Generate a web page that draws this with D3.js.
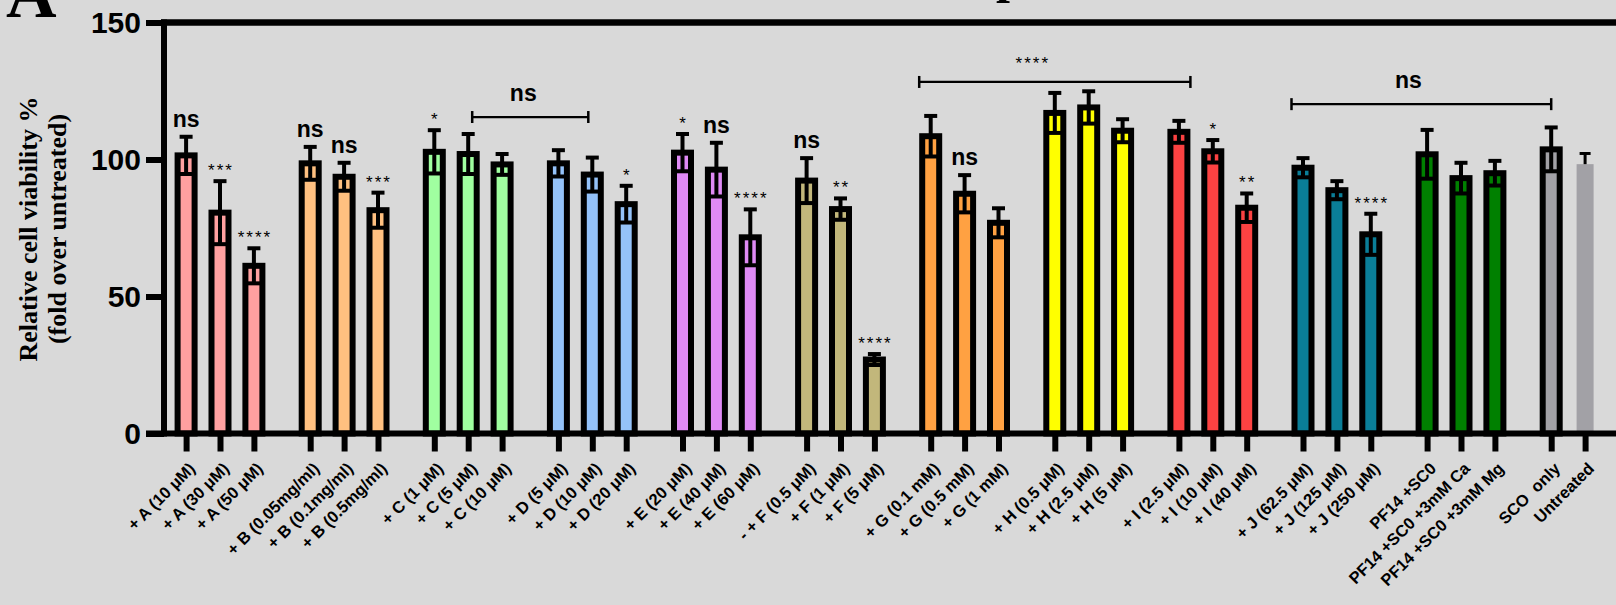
<!DOCTYPE html>
<html><head><meta charset="utf-8">
<script src="https://cdn.jsdelivr.net/npm/d3@7"></script>
<style>
html,body{margin:0;padding:0;background:#d9d9d9;}
svg{display:block;}
</style></head><body>
<svg id="chart" width="1616" height="605"></svg>
<script>
// ---------------- data ----------------
const categories = [
  "+ A (10 μM)", "+ A (30 μM)", "+ A (50 μM)",
  "+ B (0.05mg/ml)", "+ B (0.1mg/ml)", "+ B (0.5mg/ml)",
  "+ C (1 μM)", "+ C (5 μM)", "+ C (10 μM)",
  "+ D (5 μM)", "+ D (10 μM)", "+ D (20 μM)",
  "+ E (20 μM)", "+ E (40 μM)", "+ E (60 μM)",
  "- + F (0.5 μM)", "+ F (1 μM)", "+ F (5 μM)",
  "+ G (0.1 mM)", "+ G (0.5 mM)", "+ G (1 mM)",
  "+ H (0.5 μM)", "+ H (2.5 μM)", "+ H (5 μM)",
  "+ I (2.5 μM)", "+ I (10 μM)", "+ I (40 μM)",
  "+ J (62.5 μM)", "+ J (125 μM)", "+ J (250 μM)",
  "PF14 +SC0", "PF14 +SC0 +3mM Ca", "PF14 +SC0 +3mM Mg",
  "SCO  only", "Untreated"
];
const means = [
  101.5, 80.6, 61.2,
  98.6, 93.7, 81.5,
  102.8, 102.0, 98.2,
  98.6, 94.5, 83.7,
  102.5, 96.3, 71.6,
  92.3, 81.9, 27.0,
  108.5, 87.5, 76.9,
  117.0, 119.0, 110.5,
  110.1, 103.0, 82.4,
  97.0, 88.8, 72.7,
  101.9, 93.2, 95.0,
  103.7, 98.3
];
const sds = [
  6.8, 11.5, 6.4,
  6.0, 5.1, 6.4,
  7.9, 7.3, 3.8,
  4.8, 6.2, 6.7,
  6.8, 9.8, 10.2,
  8.2, 3.9, 2.0,
  7.4, 6.8, 5.3,
  7.3, 5.9, 4.2,
  4.0, 4.1, 5.2,
  3.5, 3.3, 7.5,
  8.9, 5.6, 4.5,
  8.0, 3.9
];
const groupIndex = [0,0,0, 1,1,1, 2,2,2, 3,3,3, 4,4,4, 5,5,5, 6,6,6, 7,7,7, 8,8,8, 9,9,9, 10,10,10, 11,11];
const groupColors = ["#FFA0A0","#FFC080","#A0FFA0","#94C2F9","#DF8AF5","#C2B77B",
                     "#FFA142","#FFFF00","#FC4242","#0A7E98","#008000","#A2A1A6"];
const sigLabels = [
  "ns","***","****",
  "ns","ns","***",
  "*","","",
  "","","*",
  "*","ns","****",
  "ns","**","****",
  "","ns","",
  "","","",
  "","*","**",
  "","","****",
  "","","",
  "",""
];
const yTicks = [0, 50, 100, 150];
const bracketFrom  = ["+ C (5 μM)", "+ G (0.1 mM)", "+ J (62.5 μM)"];
const bracketTo    = ["+ D (10 μM)", "+ I (2.5 μM)", "SCO  only"];
const bracketLevel = [115.5, 128.3, 120.2];
const bracketText  = ["ns", "****", "ns"];
const borderless   = ["Untreated"];

// ---------------- styles ----------------
const SANS = "'Liberation Sans', Arial, Helvetica, sans-serif";
const SERIF = "'Liberation Serif', 'Times New Roman', serif";
const bracketStyle = [{l: 4, r: -4, tx: -7}, {l: -11.5, r: 11.5, tx: -22}, {l: -11.5, r: 0, tx: -13}];

// ---------------- drawing ----------------
const W = 1616, H = 605;
const svg = d3.select("#chart");
svg.append("rect").attr("width", W).attr("height", H).attr("fill", "#d9d9d9");

const within = [];
const counts = {};
groupIndex.forEach(g => { counts[g] = counts[g] || 0; within.push(counts[g]); counts[g]++; });

const y = d3.scaleLinear().domain([0, 150]).range([433.5, 22.5]);
const gx = d3.scaleBand().domain(d3.range(12)).range([169.15, 1635.95]).paddingInner(0.1805).paddingOuter(0);
const ix = d3.scaleBand().domain([0, 1, 2]).range([0, gx.bandwidth()]);
const cxOf = i => gx(groupIndex[i]) + ix(within[i]) + ix.bandwidth() / 2;
const xPos = d3.scaleOrdinal().domain(categories).range(categories.map((c, i) => cxOf(i)));

const rows = categories.map((c, i) => ({
  name: c, mean: means[i], sd: sds[i], color: groupColors[groupIndex[i]],
  x: xPos(c), plain: borderless.includes(c), sig: sigLabels[i]
}));

const barW = 17;
// bars
svg.append("g").selectAll("rect").data(rows).join("rect")
  .attr("x", d => d.x - barW / 2)
  .attr("y", d => y(d.mean))
  .attr("width", barW)
  .attr("height", d => y(0) - y(d.mean))
  .attr("fill", d => d.color)
  .attr("stroke", d => d.plain ? "none" : "#000")
  .attr("stroke-width", 6);

// error bars
const eg = svg.append("g").attr("stroke", "#000");
rows.forEach(d => {
  const lw = d.plain ? 3 : 4;
  const cw = d.plain ? 5.5 : 6.5;
  eg.append("line").attr("x1", d.x).attr("x2", d.x).attr("y1", y(d.mean)).attr("y2", y(d.mean + d.sd)).attr("stroke-width", lw);
  eg.append("line").attr("x1", d.x - cw).attr("x2", d.x + cw).attr("y1", y(d.mean + d.sd)).attr("y2", y(d.mean + d.sd)).attr("stroke-width", lw);
  if (!d.plain) {
    eg.append("line").attr("x1", d.x).attr("x2", d.x).attr("y1", y(d.mean)).attr("y2", y(d.mean - d.sd)).attr("stroke-width", lw);
    eg.append("line").attr("x1", d.x - cw).attr("x2", d.x + cw).attr("y1", y(d.mean - d.sd)).attr("y2", y(d.mean - d.sd)).attr("stroke-width", lw);
  }
});

// significance labels
rows.filter(d => d.sig !== "").forEach(d => {
  const capY = y(d.mean + d.sd);
  const isNs = d.sig === "ns";
  svg.append("text")
    .attr("x", d.x + (isNs ? 0 : 1))
    .attr("y", isNs ? capY - 10 : capY - 5)
    .attr("text-anchor", "middle")
    .attr("font-family", SANS)
    .attr("font-weight", isNs ? "bold" : "normal")
    .attr("font-size", isNs ? 23 : 17)
    .attr("letter-spacing", isNs ? 0 : 2)
    .attr("fill", "#000")
    .text(d.sig);
});

// brackets
bracketFrom.forEach((f, k) => {
  const st = bracketStyle[k];
  const x1 = xPos(f) + st.l, x2 = xPos(bracketTo[k]) + st.r;
  const yy = y(bracketLevel[k]);
  const g = svg.append("g").attr("stroke", "#000");
  g.append("line").attr("x1", x1).attr("x2", x2).attr("y1", yy).attr("y2", yy).attr("stroke-width", 2.2);
  g.append("line").attr("x1", x1).attr("x2", x1).attr("y1", yy - 6).attr("y2", yy + 6).attr("stroke-width", 2.5);
  g.append("line").attr("x1", x2).attr("x2", x2).attr("y1", yy - 6).attr("y2", yy + 6).attr("stroke-width", 2.5);
  const isNs = bracketText[k] === "ns";
  svg.append("text")
    .attr("x", (x1 + x2) / 2 + st.tx)
    .attr("y", isNs ? yy - 16 : yy - 13)
    .attr("text-anchor", "middle")
    .attr("font-family", SANS)
    .attr("font-weight", isNs ? "bold" : "normal")
    .attr("font-size", isNs ? 23 : 17)
    .attr("letter-spacing", isNs ? 0 : 2)
    .text(bracketText[k]);
});

// frame / axes lines
svg.append("line").attr("x1", 161).attr("x2", W).attr("y1", y(150)).attr("y2", y(150))
  .attr("stroke", "#000").attr("stroke-width", 6.5);
svg.append("line").attr("x1", 146).attr("x2", W).attr("y1", y(0)).attr("y2", y(0))
  .attr("stroke", "#000").attr("stroke-width", 6);

// y axis
const yAxis = svg.append("g").attr("transform", "translate(164,0)")
  .call(d3.axisLeft(y).tickValues(yTicks).tickSize(18).tickSizeOuter(0).tickPadding(5).tickFormat(d3.format("d")));
yAxis.select(".domain").attr("stroke-width", 6).attr("d", `M0,${y(150) - 3}V${y(0) + 3}`);
yAxis.selectAll(".tick line").attr("stroke-width", 6);
yAxis.selectAll(".tick text").attr("font-family", SANS).attr("font-weight", "bold").attr("font-size", 30).attr("fill", "#000");

// x axis
const xAxis = svg.append("g").attr("transform", `translate(0,${y(0)})`)
  .call(d3.axisBottom(xPos).tickSize(18).tickSizeOuter(0));
xAxis.select(".domain").remove();
xAxis.selectAll(".tick line").attr("stroke-width", 6);
xAxis.selectAll(".tick text")
  .attr("x", 0).attr("y", 0).attr("dy", "0.35em")
  .attr("transform", "translate(5.5,32) rotate(-45)")
  .attr("text-anchor", "end")
  .attr("font-family", SANS).attr("font-weight", "bold").attr("font-size", 16.5)
  .attr("fill", "#000")
  .style("white-space", "pre");

// y axis title
svg.append("text").attr("transform", "translate(37,229) rotate(-90)")
  .attr("text-anchor", "middle").attr("font-family", SERIF).attr("font-weight", "bold").attr("font-size", 26)
  .text("Relative cell viability %");
svg.append("text").attr("transform", "translate(66,229) rotate(-90)")
  .attr("text-anchor", "middle").attr("font-family", SERIF).attr("font-weight", "bold").attr("font-size", 26)
  .text("(fold over untreated)");

// panel letter and cropped title fragment
svg.append("text").attr("x", 6).attr("y", 17).attr("font-family", SERIF).attr("font-weight", "bold")
  .attr("font-size", 70).text("A");
svg.append("text").attr("x", 996).attr("y", -8).attr("font-family", SERIF).attr("font-weight", "bold")
  .attr("font-size", 50).text("p");
</script>
</body></html>
